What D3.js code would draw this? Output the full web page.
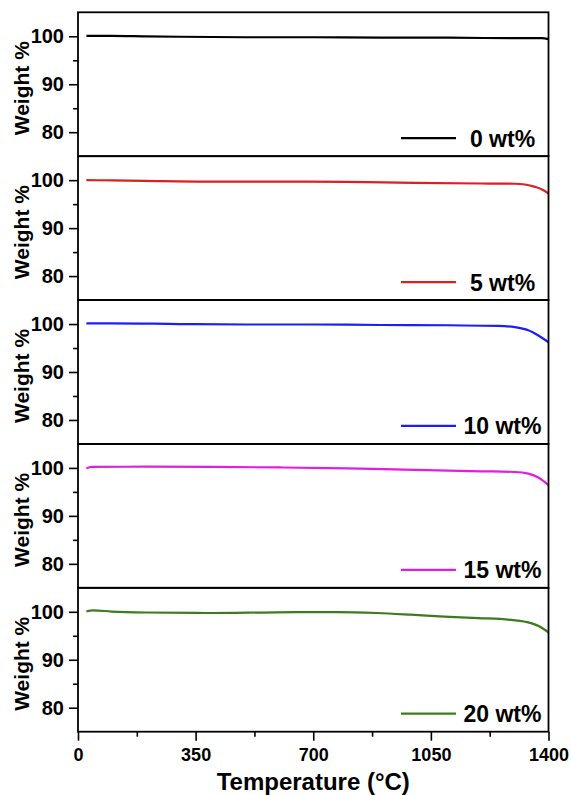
<!DOCTYPE html>
<html>
<head>
<meta charset="utf-8">
<script src="https://cdn.jsdelivr.net/npm/d3@7"></script>
<style>
  body { margin: 0; background: #fff; }
  svg text { font-family: "Liberation Sans", Arial, sans-serif; font-weight: bold; fill: #000; }
</style>
</head>
<body>
<svg id="chart" width="571" height="795"></svg>
<script>
// sample labels (top to bottom) and their line colours
var samples = ["0 wt%", "5 wt%", "10 wt%", "15 wt%", "20 wt%"];
var colors = ["#000000", "#dc1f1f", "#1c1cff", "#e21ce2", "#3c7c1c"];

// temperature (°C) / weight %
var temp0 = [25, 100, 200, 300, 500, 700, 900, 1100, 1300, 1380, 1400];
var wt0   = [100.1, 100.1, 100.0, 99.9, 99.8, 99.8, 99.7, 99.7, 99.6, 99.6, 99.4];

var temp5 = [25, 100, 200, 400, 600, 800, 1000, 1200, 1300, 1330, 1360, 1385, 1400];
var wt5   = [100.0, 99.95, 99.85, 99.7, 99.7, 99.65, 99.45, 99.3, 99.25, 99.1, 98.6, 97.9, 97.2];

var temp10 = [25, 100, 300, 500, 700, 900, 1100, 1250, 1300, 1340, 1370, 1400];
var wt10   = [100.15, 100.15, 100.0, 99.9, 99.9, 99.8, 99.75, 99.6, 99.35, 98.7, 97.6, 96.2];

var temp15 = [25, 40, 200, 400, 600, 800, 1000, 1200, 1300, 1340, 1370, 1400];
var wt15   = [99.9, 100.2, 100.25, 100.2, 100.1, 99.9, 99.6, 99.3, 99.15, 98.8, 98.0, 96.4];

var temp20 = [25, 45, 100, 200, 390, 590, 770, 890, 990, 1090, 1190, 1290, 1345, 1375, 1400];
var wt20   = [100.1, 100.3, 100.05, 99.85, 99.75, 99.9, 99.95, 99.75, 99.4, 99.0, 98.7, 98.3, 97.7, 96.9, 95.7];

var temps = [temp0, temp5, temp10, temp15, temp20];
var weights = [wt0, wt5, wt10, wt15, wt20];

var xTicks = [0, 350, 700, 1050, 1400];
var xMinor = [175, 525, 875, 1225];
var yTicks = [80, 90, 100];
var yMinor = [85, 95];

var plotLeft = 78, plotRight = 548.5, plotTop = 12.3, plotBottom = 731.7;
var panelH = (plotBottom - plotTop) / samples.length;

var svg = d3.select("#chart");

var x = d3.scaleLinear().domain([0, 1400]).range([plotLeft, plotRight]);

for (var i = 0; i < samples.length; i++) {
    var y0 = plotTop + i * panelH;
    var y = d3.scaleLinear().domain([75, 105]).range([y0 + panelH, y0]);

    var g = svg.append("g").attr("class", "panel");

    // y axis: major + minor ticks
    var yAxis = d3.axisLeft(y).tickValues(yTicks).tickSize(9).tickPadding(5).tickFormat(d3.format("d"));
    var ya = g.append("g").attr("transform", "translate(" + plotLeft + ",0)").call(yAxis);
    ya.select(".domain").remove();
    ya.selectAll("line").attr("stroke-width", 1.6);
    ya.selectAll("text").style("font-size", "20px");

    var yMin = d3.axisLeft(y).tickValues(yMinor).tickSize(5).tickFormat("");
    var ym = g.append("g").attr("transform", "translate(" + plotLeft + ",0)").call(yMin);
    ym.select(".domain").remove();
    ym.selectAll("line").attr("stroke-width", 1.6);

    // curve
    var pts = d3.zip(temps[i], weights[i]);
    var line = d3.line()
        .x(function(d) { return x(d[0]); })
        .y(function(d) { return y(d[1]); })
        .curve(d3.curveMonotoneX);

    g.append("path")
        .datum(pts)
        .attr("d", line)
        .attr("fill", "none")
        .attr("stroke", colors[i])
        .attr("stroke-width", 2.2);

    // frame
    g.append("rect")
        .attr("x", plotLeft)
        .attr("y", y0)
        .attr("width", plotRight - plotLeft)
        .attr("height", panelH)
        .attr("fill", "none")
        .attr("stroke", "#000")
        .attr("stroke-width", 1.8);

    // legend
    var ly = y0 + panelH - 18;
    g.append("line")
        .attr("x1", 401).attr("x2", 456)
        .attr("y1", ly).attr("y2", ly)
        .attr("stroke", colors[i])
        .attr("stroke-width", 2.2);
    g.append("text")
        .attr("x", 502.5)
        .attr("y", ly + 8.5)
        .attr("text-anchor", "middle")
        .style("font-size", "23px")
        .text(samples[i]);

    // y title
    g.append("text")
        .attr("transform", "translate(29," + (y0 + panelH / 2 + 4) + ") rotate(-90)")
        .attr("text-anchor", "middle")
        .style("font-size", "21px")
        .text("Weight %");
}

// x axis on the bottom panel
var xAxis = d3.axisBottom(x).tickValues(xTicks).tickSize(9).tickPadding(8).tickFormat(d3.format("d"));
var xa = svg.append("g").attr("transform", "translate(0," + plotBottom + ")").call(xAxis);
xa.select(".domain").remove();
xa.selectAll("line").attr("stroke-width", 1.6);
xa.selectAll("text").style("font-size", "18px");

var xMin = d3.axisBottom(x).tickValues(xMinor).tickSize(5).tickFormat("");
var xm = svg.append("g").attr("transform", "translate(0," + plotBottom + ")").call(xMin);
xm.select(".domain").remove();
xm.selectAll("line").attr("stroke-width", 1.6);

svg.append("text")
    .attr("x", (plotLeft + plotRight) / 2)
    .attr("y", 790)
    .attr("text-anchor", "middle")
    .style("font-size", "24px")
    .text("Temperature (°C)");
</script>
</body>
</html>
